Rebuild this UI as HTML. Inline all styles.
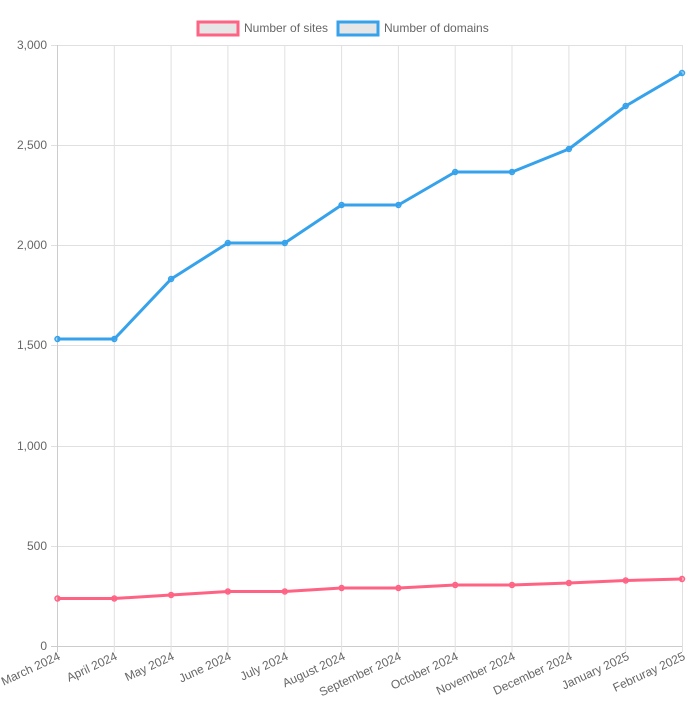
<!DOCTYPE html>
<html><head><meta charset="utf-8"><style>body{margin:0;background:#fff}svg{display:block}text{font-family:"Liberation Sans",sans-serif;font-size:12px;fill:#666}</style></head><body>
<svg width="699" height="705" xmlns="http://www.w3.org/2000/svg">
<g stroke="#e0e0e0" stroke-width="1">
<line x1="51" y1="45.5" x2="682" y2="45.5"/><line x1="51" y1="145.5" x2="682" y2="145.5"/><line x1="51" y1="245.5" x2="682" y2="245.5"/><line x1="51" y1="345.5" x2="682" y2="345.5"/><line x1="51" y1="446.5" x2="682" y2="446.5"/><line x1="51" y1="546.5" x2="682" y2="546.5"/><line x1="51" y1="646.5" x2="682" y2="646.5" stroke="#ccc"/>
<line x1="57.5" y1="45" x2="57.5" y2="652" stroke="#ccc"/><line x1="114.3" y1="45" x2="114.3" y2="652"/><line x1="171.1" y1="45" x2="171.1" y2="652"/><line x1="227.9" y1="45" x2="227.9" y2="652"/><line x1="284.8" y1="45" x2="284.8" y2="652"/><line x1="341.6" y1="45" x2="341.6" y2="652"/><line x1="398.4" y1="45" x2="398.4" y2="652"/><line x1="455.2" y1="45" x2="455.2" y2="652"/><line x1="512" y1="45" x2="512" y2="652"/><line x1="568.9" y1="45" x2="568.9" y2="652"/><line x1="625.7" y1="45" x2="625.7" y2="652"/><line x1="682.5" y1="45" x2="682.5" y2="652"/>
</g>
<g text-anchor="end">
<text x="47" y="49">3,000</text><text x="47" y="149">2,500</text><text x="47" y="249">2,000</text><text x="47" y="349">1,500</text><text x="47" y="450">1,000</text><text x="47" y="550">500</text><text x="47" y="650">0</text>
</g>
<g text-anchor="end">
<text transform="translate(61,659) rotate(-25)">March 2024</text>
<text transform="translate(118,659) rotate(-25)">April 2024</text>
<text transform="translate(175,659) rotate(-25)">May 2024</text>
<text transform="translate(232,659) rotate(-25)">June 2024</text>
<text transform="translate(289,659) rotate(-25)">July 2024</text>
<text transform="translate(346,659) rotate(-25)">August 2024</text>
<text transform="translate(402,659) rotate(-25)">September 2024</text>
<text transform="translate(459,659) rotate(-25)">October 2024</text>
<text transform="translate(516,659) rotate(-25)">November 2024</text>
<text transform="translate(573,659) rotate(-25)">December 2024</text>
<text transform="translate(630,659) rotate(-25)">January 2025</text>
<text transform="translate(686,659) rotate(-25)">Februray 2025</text>
</g>
<rect x="198" y="22" width="40" height="13" fill="#e6e6e6" stroke="#ff6384" stroke-width="3"/>
<text x="244" y="32">Number of sites</text>
<rect x="338" y="22" width="40" height="13" fill="#e6e6e6" stroke="#36a2eb" stroke-width="3"/>
<text x="384" y="32">Number of domains</text>
<g fill="none" stroke-width="3" stroke-linejoin="round">
<polyline stroke="#36a2eb" points="57.5,339 114.3,339 171.1,279 227.9,243 284.8,243 341.6,205 398.4,205 455.2,172 512,172 568.9,149 625.7,106 682,73"/>
<polyline stroke="#ff6384" points="57.5,598.5 114.3,598.5 171.1,595 227.9,591.5 284.8,591.5 341.6,588 398.4,588 455.2,585 512,585 568.9,583 625.7,580.5 682,579"/>
</g>
<g fill="rgba(54,162,235,0.4)" stroke="#36a2eb" stroke-width="1.5">
<circle cx="57.5" cy="339" r="2.5"/><circle cx="114.3" cy="339" r="2.5"/><circle cx="171.1" cy="279" r="2.5"/><circle cx="227.9" cy="243" r="2.5"/><circle cx="284.8" cy="243" r="2.5"/><circle cx="341.6" cy="205" r="2.5"/><circle cx="398.4" cy="205" r="2.5"/><circle cx="455.2" cy="172" r="2.5"/><circle cx="512" cy="172" r="2.5"/><circle cx="568.9" cy="149" r="2.5"/><circle cx="625.7" cy="106" r="2.5"/><circle cx="682" cy="73" r="2.5"/>
</g>
<g fill="rgba(255,99,132,0.4)" stroke="#ff6384" stroke-width="1.5">
<circle cx="57.5" cy="598.5" r="2.5"/><circle cx="114.3" cy="598.5" r="2.5"/><circle cx="171.1" cy="595" r="2.5"/><circle cx="227.9" cy="591.5" r="2.5"/><circle cx="284.8" cy="591.5" r="2.5"/><circle cx="341.6" cy="588" r="2.5"/><circle cx="398.4" cy="588" r="2.5"/><circle cx="455.2" cy="585" r="2.5"/><circle cx="512" cy="585" r="2.5"/><circle cx="568.9" cy="583" r="2.5"/><circle cx="625.7" cy="580.5" r="2.5"/><circle cx="682" cy="579" r="2.5"/>
</g>
</svg>
</body></html>
